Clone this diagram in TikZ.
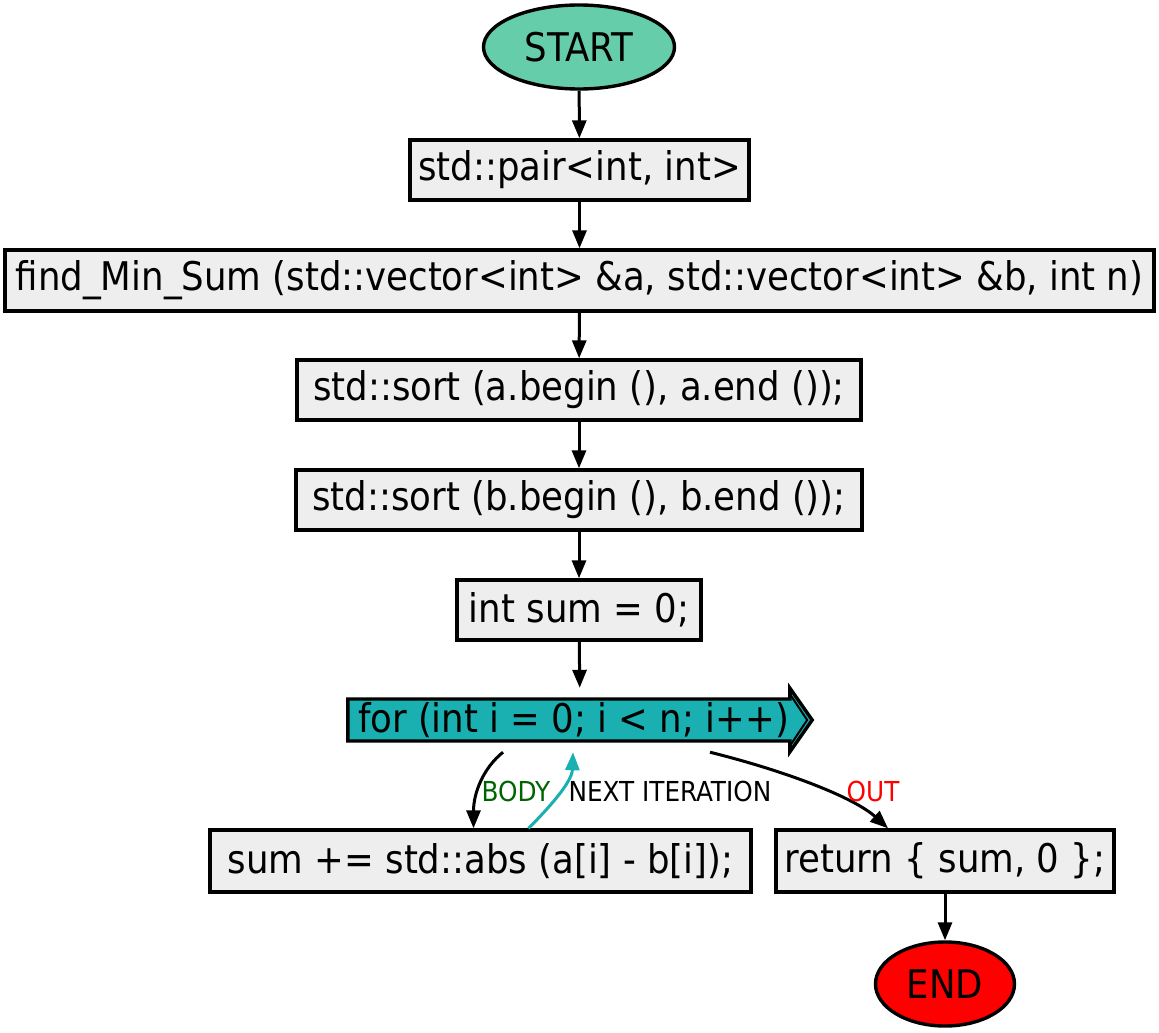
\documentclass[tikz,border=0pt]{standalone}
\usepackage{fontspec}
\setmainfont{DejaVu Sans Condensed}
\usetikzlibrary{arrows.meta,calc,shapes.geometric}
\definecolor{startc}{HTML}{66CDAA}
\definecolor{forc}{HTML}{1AAFB0}
\definecolor{boxc}{HTML}{EEEEEE}
\definecolor{bodyc}{HTML}{006400}
\begin{document}
\begin{tikzpicture}[x=1pt,y=-1pt,
  box/.style={draw=black,line width=3.4pt,fill=boxc,inner sep=0pt,font=\fontsize{39.5}{44}\selectfont},
  term/.style={draw=black,line width=3.4pt,ellipse,inner sep=0pt,font=\fontsize{39.5}{44}\selectfont},
  arr/.style={line width=3pt,-{Triangle[length=18pt,width=14pt]}},
  lbl/.style={font=\fontsize{27.5}{30}\selectfont,inner sep=0pt}]
\useasboundingbox (0,0) rectangle (1159,1033);
\node[term,fill=startc,minimum width=191pt,minimum height=84pt] (start) at (579,47) {START};
\node[box,minimum width=339pt,minimum height=60pt] (pair) at (579.5,170) {std::pair<int, int>};
\node[box,minimum width=1149pt,minimum height=61pt] (find) at (579.5,280.5) {find\_Min\_Sum (std::vector<int> \&a, std::vector<int> \&b, int n)};
\node[box,minimum width=564pt,minimum height=60pt] (sorta) at (579,390) {std::sort (a.begin (), a.end ());};
\node[box,minimum width=566pt,minimum height=60pt] (sortb) at (579,500) {std::sort (b.begin (), b.end ());};
\node[box,minimum width=244pt,minimum height=60pt] (sum) at (579,610) {int sum = 0;};
% for node (bounding box of the arrow shape)
\node[inner sep=0pt,minimum width=464pt,minimum height=64pt] (for) at (580,720) {};
\draw[line width=3.4pt,fill=forc,line join=miter]
  ($(for.west)+(0,-21)$) -- ($(for.west)+(442,-21)$) -- ($(for.west)+(442,-32)$)
  -- (for.east) -- ($(for.west)+(442,32)$) -- ($(for.west)+(442,21)$)
  -- ($(for.west)+(0,21)$) -- cycle;
\draw[line width=2pt] ($(for.west)+(442,-26)$) -- ($(for.east)+(-5,0)$) -- ($(for.west)+(442,26)$);
\node[font=\fontsize{39.5}{44}\selectfont,inner sep=0pt,anchor=west] (fortext) at ($(for.west)+(10,0)$) {for (int i = 0; i < n; i++)};
\node[box,minimum width=541pt,minimum height=62pt] (body) at (480.5,861) {sum += std::abs (a[i] - b[i]);};
\node[box,minimum width=338pt,minimum height=62pt] (ret) at (945,861) {return \{ sum, 0 \};};
\node[term,fill=red,minimum width=139pt,minimum height=84pt] (end) at (945,984) {END};
% connectors
\draw[arr] (start) -- (pair);
\draw[arr] (pair) -- (find);
\draw[arr] (find) -- (sorta);
\draw[arr] (sorta) -- (sortb);
\draw[arr] (sortb) -- (sum);
\draw[arr] (sum) -- (for);
\draw[arr] ($(for.south)+(-77,0)$) .. controls ($(for.south)+(-97,16)$) and ($(body.north)+(-7,-35)$) .. ($(body.north)+(-7,0)$);
\draw[arr,draw=forc] ($(body.north)+(48,0)$) .. controls ($(body.north)+(68,-20)$) and ($(for.south)+(-8,30)$) .. ($(for.south)+(-7,0)$);
\draw[arr] ($(for.south)+(130,0)$) .. controls ($(for.south)+(210,20)$) and ($(ret.north)+(-90,-30)$) .. ($(ret.north)+(-57,0)$);
\draw[arr] (ret) -- (end);
% labels
\node[lbl,text=bodyc] (lbody) at (516,791) {BODY};
\node[lbl] (lnext) at (670,791) {NEXT ITERATION};
\node[lbl,text=red] (lout) at (873,791) {OUT};
\end{tikzpicture}
\end{document}
